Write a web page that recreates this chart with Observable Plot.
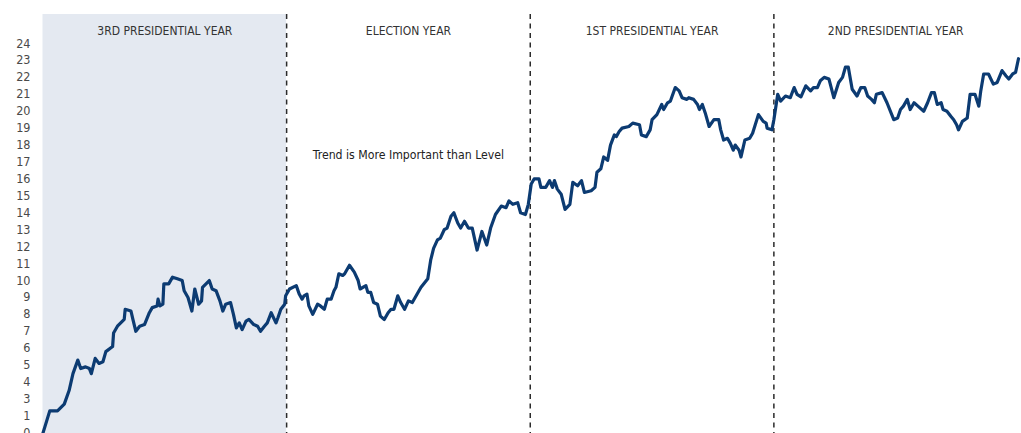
<!DOCTYPE html>
<html>
<head>
<meta charset="utf-8">
<script src="https://cdn.jsdelivr.net/npm/d3@7"></script>
<script src="https://cdn.jsdelivr.net/npm/@observablehq/plot@0.6"></script>
<style>
  html, body { margin: 0; padding: 0; background: #ffffff; }
  #chart svg { display: block; }
</style>
</head>
<body>
<div id="chart"></div>
<script>
// Presidential cycle periods (trading days, 252 per year)
const periodLabels = ["3RD PRESIDENTIAL YEAR", "ELECTION YEAR", "1ST PRESIDENTIAL YEAR", "2ND PRESIDENTIAL YEAR"];
const periodStart = [0, 252, 504, 756];
const periodEnd = [252, 504, 756, 1008];
const shadedPeriods = [0];
const dividerDays = [252, 504, 756];

// Y axis tick labels as printed on the chart (evenly spaced; "2" is skipped)
const yTickValues = [0, 1, 3, 4, 5, 6, 7, 8, 9, 10, 11, 12, 13, 14, 15, 16, 17, 18, 19, 20, 21, 22, 23, 24];

// Annotation
const annotationText = ["Trend is More Important than Level"];
const annotationDay = [378];
const annotationValue = [17.4];

// Series: cumulative performance through the cycle
const days = [
  0, 7, 15, 22, 27, 31, 36, 39, 44, 48, 50, 54, 58, 62, 65, 72, 73, 77, 84, 85,
  91, 93, 96, 100, 105, 110, 113, 118, 119, 121, 124, 125, 130, 134, 139, 144, 146, 150, 154, 157,
  161, 164, 165, 172, 175, 179, 183, 186, 189, 194, 197, 200, 203, 206, 210, 213, 218, 222, 225, 229,
  232, 236, 241, 243, 246, 250, 251, 255, 262, 265, 268, 270, 273, 275, 279, 284, 287, 291, 294, 298,
  301, 303, 306, 310, 312, 317, 322, 326, 328, 334, 336, 339, 342, 346, 349, 353, 357, 360, 363, 367,
  370, 374, 378, 382, 387, 391, 398, 401, 404, 408, 411, 415, 418, 422, 425, 429, 432, 436, 440, 444,
  449, 454, 459, 463, 468, 474, 479, 482, 486, 491, 494, 499, 502, 505, 508, 513, 515, 520, 524, 527,
  529, 532, 536, 540, 545, 548, 553, 557, 560, 567, 571, 573, 577, 580, 584, 587, 591, 593, 596, 599,
  606, 610, 617, 619, 624, 628, 630, 635, 640, 642, 646, 649, 654, 658, 661, 666, 668, 673, 677, 679,
  682, 685, 689, 694, 699, 701, 704, 708, 711, 714, 716, 720, 722, 726, 731, 734, 740, 745, 748, 749,
  754, 756, 760, 763, 768, 773, 777, 780, 784, 789, 794, 797, 801, 804, 808, 813, 818, 823, 827, 830,
  833, 837, 842, 846, 850, 853, 857, 860, 862, 868, 873, 880, 884, 887, 890, 894, 897, 901, 905, 911,
  915, 919, 922, 925, 929, 931, 935, 939, 942, 945, 947, 951, 956, 959, 964, 968, 970, 973, 978, 983,
  987, 992, 996, 999, 1003, 1006, 1009
];
const values = [
  0.0, 1.6, 1.6, 2.4, 3.5, 4.5, 5.3, 4.8, 4.9, 4.8, 4.5, 5.4, 5.1, 5.2, 5.8, 6.1, 6.9, 7.3, 7.7, 8.3,
  8.2, 7.7, 7.0, 7.3, 7.4, 8.1, 8.4, 8.5, 8.9, 8.5, 8.6, 9.8, 9.8, 10.2, 10.1, 10.0, 9.4, 9.0, 8.2, 9.5,
  8.6, 8.8, 9.6, 10.0, 9.5, 9.4, 8.8, 8.2, 8.6, 8.7, 8.0, 7.2, 7.5, 7.1, 7.6, 7.7, 7.4, 7.3, 7.0, 7.3,
  7.5, 8.1, 7.5, 7.8, 8.3, 8.6, 9.1, 9.5, 9.7, 9.2, 8.9, 9.1, 9.2, 8.5, 8.0, 8.6, 8.5, 8.3, 8.9, 8.9,
  9.4, 9.6, 10.4, 10.3, 10.4, 10.9, 10.5, 10.0, 9.5, 9.7, 9.3, 9.3, 8.7, 8.6, 7.9, 7.7, 8.1, 8.3, 8.3, 9.1,
  8.7, 8.3, 8.8, 8.7, 9.2, 9.6, 10.1, 11.2, 11.9, 12.4, 12.5, 13.0, 13.1, 13.8, 14.0, 13.4, 13.1, 13.5, 13.1, 13.1,
  11.8, 12.9, 12.1, 13.1, 13.9, 14.4, 14.3, 14.7, 14.5, 14.6, 14.0, 13.9, 14.5, 15.7, 16.0, 16.0, 15.5, 15.5, 15.9, 15.5,
  15.9, 15.4, 15.1, 14.2, 14.5, 15.8, 15.6, 15.9, 15.2, 15.3, 15.5, 16.4, 16.6, 17.3, 17.1, 18.0, 18.6, 18.5, 18.8, 19.0,
  19.1, 19.3, 19.2, 18.6, 18.5, 18.9, 19.5, 19.8, 20.4, 20.1, 20.5, 20.6, 21.4, 21.2, 20.8, 20.7, 20.8, 20.7, 20.4, 20.1,
  20.4, 19.9, 19.1, 19.5, 19.5, 18.9, 18.3, 18.4, 18.1, 17.7, 18.0, 17.7, 17.3, 18.3, 18.4, 18.7, 19.8, 19.4, 19.3, 19.0,
  18.9, 19.5, 21.0, 20.6, 20.9, 20.8, 21.4, 21.0, 20.85, 21.5, 21.2, 21.4, 21.4, 21.8, 22.0, 21.9, 20.8, 21.7, 22.0, 22.6,
  22.6, 21.3, 20.9, 21.4, 21.4, 20.9, 20.7, 20.5, 21.0, 21.1, 20.5, 19.5, 19.6, 20.1, 20.3, 20.7, 20.1, 20.5, 20.3, 20.0,
  20.5, 21.1, 21.1, 20.4, 20.5, 20.1, 20.0, 19.7, 19.5, 19.2, 18.9, 19.4, 19.6, 21.0, 21.0, 20.3, 21.2, 22.2, 22.2, 21.6,
  21.7, 22.4, 22.1, 21.9, 22.2, 22.3, 23.1
];

const series = days.map((d, i) => ({day: d, value: values[i]}));
const periods = periodLabels.map((label, i) => ({label, start: periodStart[i], end: periodEnd[i], mid: (periodStart[i] + periodEnd[i]) / 2}));
const shaded = shadedPeriods.map(i => periods[i]);
const annotations = annotationText.map((t, i) => ({text: t, day: annotationDay[i], value: annotationValue[i]}));

const narrow = "'Liberation Sans Narrow', 'Arial Narrow', 'DejaVu Sans Condensed', sans-serif";

// The printed axis places its labels evenly, skipping "2": the scale
// transform maps printed values onto those evenly spaced label slots.
const slot = v => (v <= 1 ? v : v <= 3 ? 1 + (v - 1) / 2 : v - 1);
const step = 16.93;
const y0 = 432.4;

const chart = Plot.plot({
  width: 1021,
  height: 433,
  marginTop: 14,
  marginBottom: 0,
  marginLeft: 42,
  marginRight: 0,
  style: {background: "#ffffff", fontFamily: narrow, overflow: "visible"},
  x: {domain: [0, 1008], range: [42.5, 1017], axis: null},
  y: {transform: slot, domain: [0, 23], range: [y0, y0 - 23 * step], axis: null, label: null},
  marks: [
    Plot.rect(shaded, {x1: "start", x2: "end", fill: "#e4e9f1"}),
    Plot.ruleX(dividerDays, {stroke: "#2b2b2b", strokeWidth: 1.5, strokeDasharray: "5,4.5"}),
    Plot.axisY(yTickValues, {
      tickSize: 0,
      tickPadding: 12,
      tickFormat: d => String(d),
      label: null,
      fontSize: 12.5,
      fill: "#4a4a4a",
      fontFamily: narrow
    }),
    Plot.text(periods, {x: "mid", text: "label", frameAnchor: "top", dy: 12, fontSize: 12, fill: "#333333", fontFamily: narrow}),
    Plot.text(annotations, {x: "day", y: "value", text: "text", fontSize: 12.2, fill: "#222222", fontFamily: narrow}),
    Plot.line(series, {x: "day", y: "value", stroke: "#0c3b72", strokeWidth: 3.2, strokeLinejoin: "round", strokeLinecap: "round"})
  ]
});

document.getElementById("chart").appendChild(chart);
</script>
</body>
</html>
